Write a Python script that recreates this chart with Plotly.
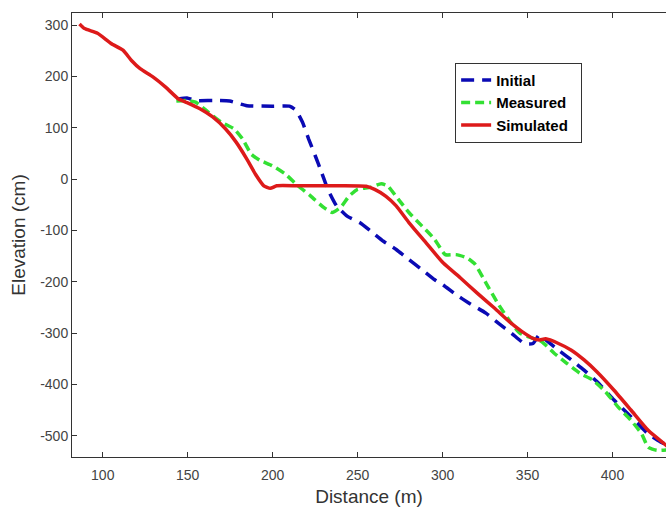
import plotly.graph_objects as go

# Simulated
sim_x = [86.3, 89.3, 96.9, 104.9, 111.9, 116.9, 122, 129.5, 137, 144.6, 149.6, 157.2, 164.7, 172.2, 178.5,
         184.8, 189.8, 194.8, 198.6, 202.4, 215, 240, 255, 260, 266.5, 272.7, 280.3, 290.3, 300.3, 310.4,
         320.4, 330.5, 340.5, 346.8, 353.2, 356.9, 360.7, 368.2, 375.8, 383.3, 390.8, 400.9, 411, 421, 433]
sim_y = [302, 293, 284, 264, 251, 231, 215, 199, 179, 156, 149, 137, 121, 98, 72,
         39, 10, -13, -18, -13, -13, -13, -14, -20, -33, -52, -85, -124, -163, -192,
         -222, -251, -281, -297, -310, -313, -311, -320, -333, -352, -375, -411, -450, -489, -522]

# Measured
mea_x = [143.3, 149.6, 154.6, 162.2, 169.7, 177.2, 182.3, 187.3, 192.3, 199.8, 207.4, 214.9, 222.4, 230, 235,
         240, 245, 250, 257.6, 263.9, 267.6, 273.9, 280.2, 287.8, 295.3, 301.6, 307.9, 314.2, 319.2, 325.5,
         333.1, 340.6, 345.6, 353.2, 358.2, 365.7, 373.3, 380.8, 388.3, 395.9, 403.4, 411, 417.2, 421, 426, 433]
mea_y = [152, 153, 150, 130, 111, 98, 78, 49, 37, 26, 10, -13, -33, -55, -65,
         -55, -33, -20, -16, -9, -13, -39, -65, -91, -117, -147, -147, -153, -166, -202,
         -245, -281, -300, -310, -316, -339, -359, -378, -391, -414, -444, -470, -496, -522, -528, -527]

# Initial
ini_x = [144.6, 149.6, 154.6, 164.7, 174.7, 184.8, 199.9, 209.9, 213.7, 217.5, 221.2, 225, 228.8, 232.5, 237.6,
         243.8, 251.4, 257.6, 265.2, 272.7, 280.3, 287.8, 295.4, 300.3, 307.9, 315.4, 325.5, 333, 340.6, 348.1,
         353.2, 357, 360.7, 368.3, 375.8, 383.3, 390.8, 400.9, 411, 421, 428.5, 433]
ini_y = [156, 158, 153, 153, 152, 143, 142, 142, 134, 111, 78, 46, 13, -20, -52,
         -72, -85, -101, -121, -137, -157, -176, -196, -206, -225, -241, -261, -281, -300, -320,
         -320, -303, -313, -333, -352, -372, -394, -430, -463, -496, -512, -519]

x_ticks = [100, 150, 200, 250, 300, 350, 400]
y_ticks = [-500, -400, -300, -200, -100, 0, 100, 200, 300]
y_ticktext = ["-500", "-400", "-300", "-200", "-100", "0", "100", "200", "300"]

fig = go.Figure()
fig.add_trace(go.Scatter(x=ini_x, y=ini_y, mode="lines", name="Initial",
                         line=dict(color="#0a0ab4", width=3.5, dash="13px,8px", shape="spline", smoothing=0.5)))
fig.add_trace(go.Scatter(x=mea_x, y=mea_y, mode="lines", name="Measured",
                         line=dict(color="#33e033", width=3.5, dash="9px,5px", shape="spline", smoothing=0.5)))
fig.add_trace(go.Scatter(x=sim_x, y=sim_y, mode="lines", name="Simulated\u2002",
                         line=dict(color="#dd1a1a", width=3.5, shape="spline", smoothing=0.5)))

fam = "Liberation Sans, Arial, sans-serif"
axis_font = dict(family=fam, size=14, color="#444444")
fig.update_layout(
    width=666, height=508,
    margin=dict(l=72, r=0, t=13, b=51, autoexpand=False),
    paper_bgcolor="white", plot_bgcolor="white",
    font=dict(family=fam),
    showlegend=True,
    legend=dict(x=0.645, y=0.888, xanchor="left", yanchor="top",
                bgcolor="white", bordercolor="#333333", borderwidth=1,
                font=dict(family=fam, size=15, color="black", weight="bold"),
                tracegroupgap=0, itemwidth=30),
    xaxis=dict(range=[81.9, 431.5], tickvals=x_ticks, ticks="inside", ticklen=5, tickcolor="#333",
               showline=True, linecolor="#333", linewidth=1, mirror="ticks", showgrid=False, zeroline=False,
               tickfont=axis_font, automargin=False, ticklabelstandoff=5,
               title=dict(text="Distance (m)", font=dict(family=fam, size=19, color="#333"), standoff=7)),
    yaxis=dict(range=[-541, 323.4], tickvals=y_ticks, ticktext=y_ticktext, ticks="inside", ticklen=5, tickcolor="#333",
               showline=True, linecolor="#333", linewidth=1, showgrid=False, zeroline=False,
               tickfont=axis_font, automargin=False,
               title=dict(text="Elevation (cm)", font=dict(family=fam, size=19, color="#333"), standoff=9)),
)
fig.write_html("out.html", config={"displayModeBar": False},
               post_script="document.body.style.margin='0';")
